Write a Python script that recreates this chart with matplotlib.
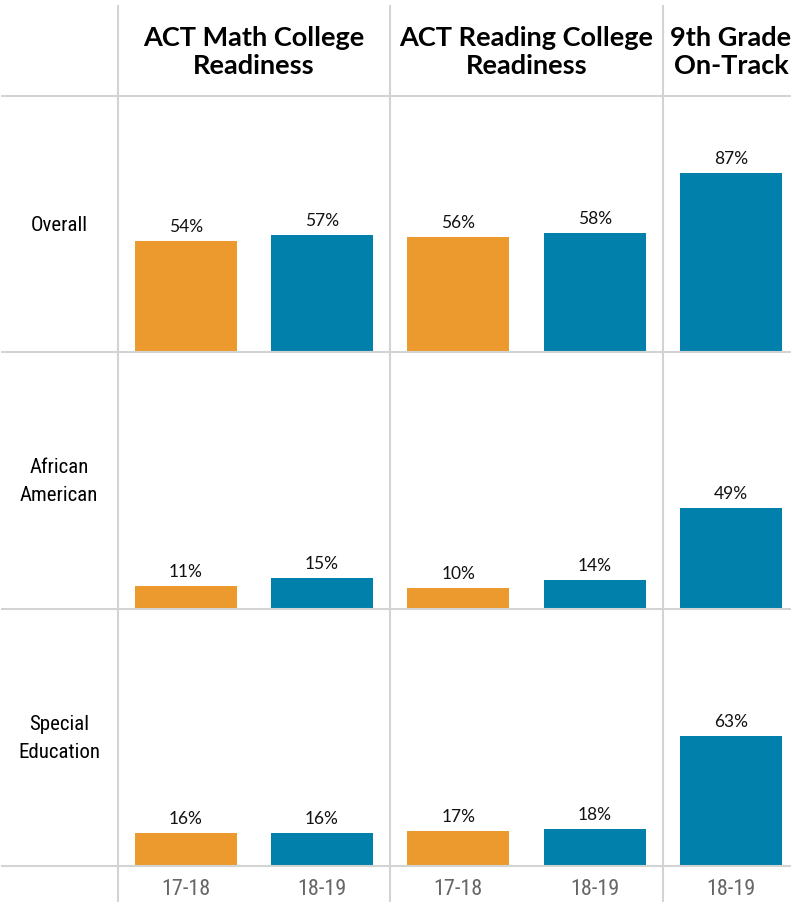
import matplotlib
matplotlib.use("Agg")
import matplotlib.pyplot as plt
from matplotlib.lines import Line2D

# ── data ────────────────────────────────────────────────────────────
panels = ["ACT Math College\nReadiness", "ACT Reading College\nReadiness",
          "9th Grade\nOn-Track"]
groups = ["Overall", "African\nAmerican", "Special\nEducation"]
years = [["17-18", "18-19"], ["17-18", "18-19"], ["18-19"]]

math_vals = [[54, 57], [11, 15], [16, 16]]
reading_vals = [[56, 58], [10, 14], [17, 18]]
ontrack_vals = [[87], [49], [63]]
panel_vals = [math_vals, reading_vals, ontrack_vals]

ORANGE = "#EC9A2D"
BLUE = "#0080AA"
GRID = "#d3d3d3"
year_color = {"17-18": ORANGE, "18-19": BLUE}

W, H = 791, 903
fig = plt.figure(figsize=(W / 100, H / 100), dpi=100)

line_x = [118, 390, 663]
col_edges = [(118, 390), (390, 663), (667, 795)]
row_edges = [97, 353.3, 610, 867]
bar_px = 102

cond = ["Roboto Condensed", "DejaVu Sans"]
body = ["Lato", "DejaVu Sans"]

for c in range(3):
    x0, x1 = col_edges[c]
    n = len(years[c])
    ppu = (x1 - x0) / n          # pixels per category unit
    for r in range(3):
        y0, y1 = row_edges[r], row_edges[r + 1]
        ax = fig.add_axes([x0 / W, 1 - y1 / H, (x1 - x0) / W, (y1 - y0) / H])
        vals = panel_vals[c][r]
        xs = list(range(n))
        bars = ax.bar(xs, vals, width=bar_px / ppu,
                      color=[year_color[y] for y in years[c]])
        for b, v in zip(bars, vals):
            ax.annotate(f"{v}%", (b.get_x() + b.get_width() / 2, v),
                        xytext=(0, 5), textcoords="offset points",
                        ha="center", va="bottom", fontsize=12.5,
                        family=body, color="#111111")
        ax.set_xlim(-0.5, n - 0.5)
        ax.set_ylim(0, 124.5)
        ax.axis("off")
        if r == 2:
            for xi, y in zip(xs, years[c]):
                ax.annotate(y, (xi, 0), xytext=(0, -16),
                            textcoords="offset points", ha="center",
                            va="center", fontsize=16, family=cond,
                            stretch="condensed", color="#666666")
    fig.text(((x0 + x1) / 2 if c < 2 else 731) / W, 1 - 52 / H, panels[c],
             ha="center", va="center", fontsize=19.5, fontweight="bold",
             family=body, linespacing=1.2)

for r in range(3):
    yc = (row_edges[r] + row_edges[r + 1]) / 2
    fig.text(59 / W, 1 - yc / H, groups[r], ha="center", va="center",
             fontsize=15, family=cond, stretch="condensed", linespacing=1.6)

# table grid lines
for x in line_x:
    fig.add_artist(Line2D([x / W, x / W], [1 - 7 / H, 0], color=GRID, lw=1.5))
for y in row_edges:
    fig.add_artist(Line2D([2 / W, 1], [1 - y / H, 1 - y / H], color=GRID, lw=1.5))

fig.savefig("out.png", dpi=100)
